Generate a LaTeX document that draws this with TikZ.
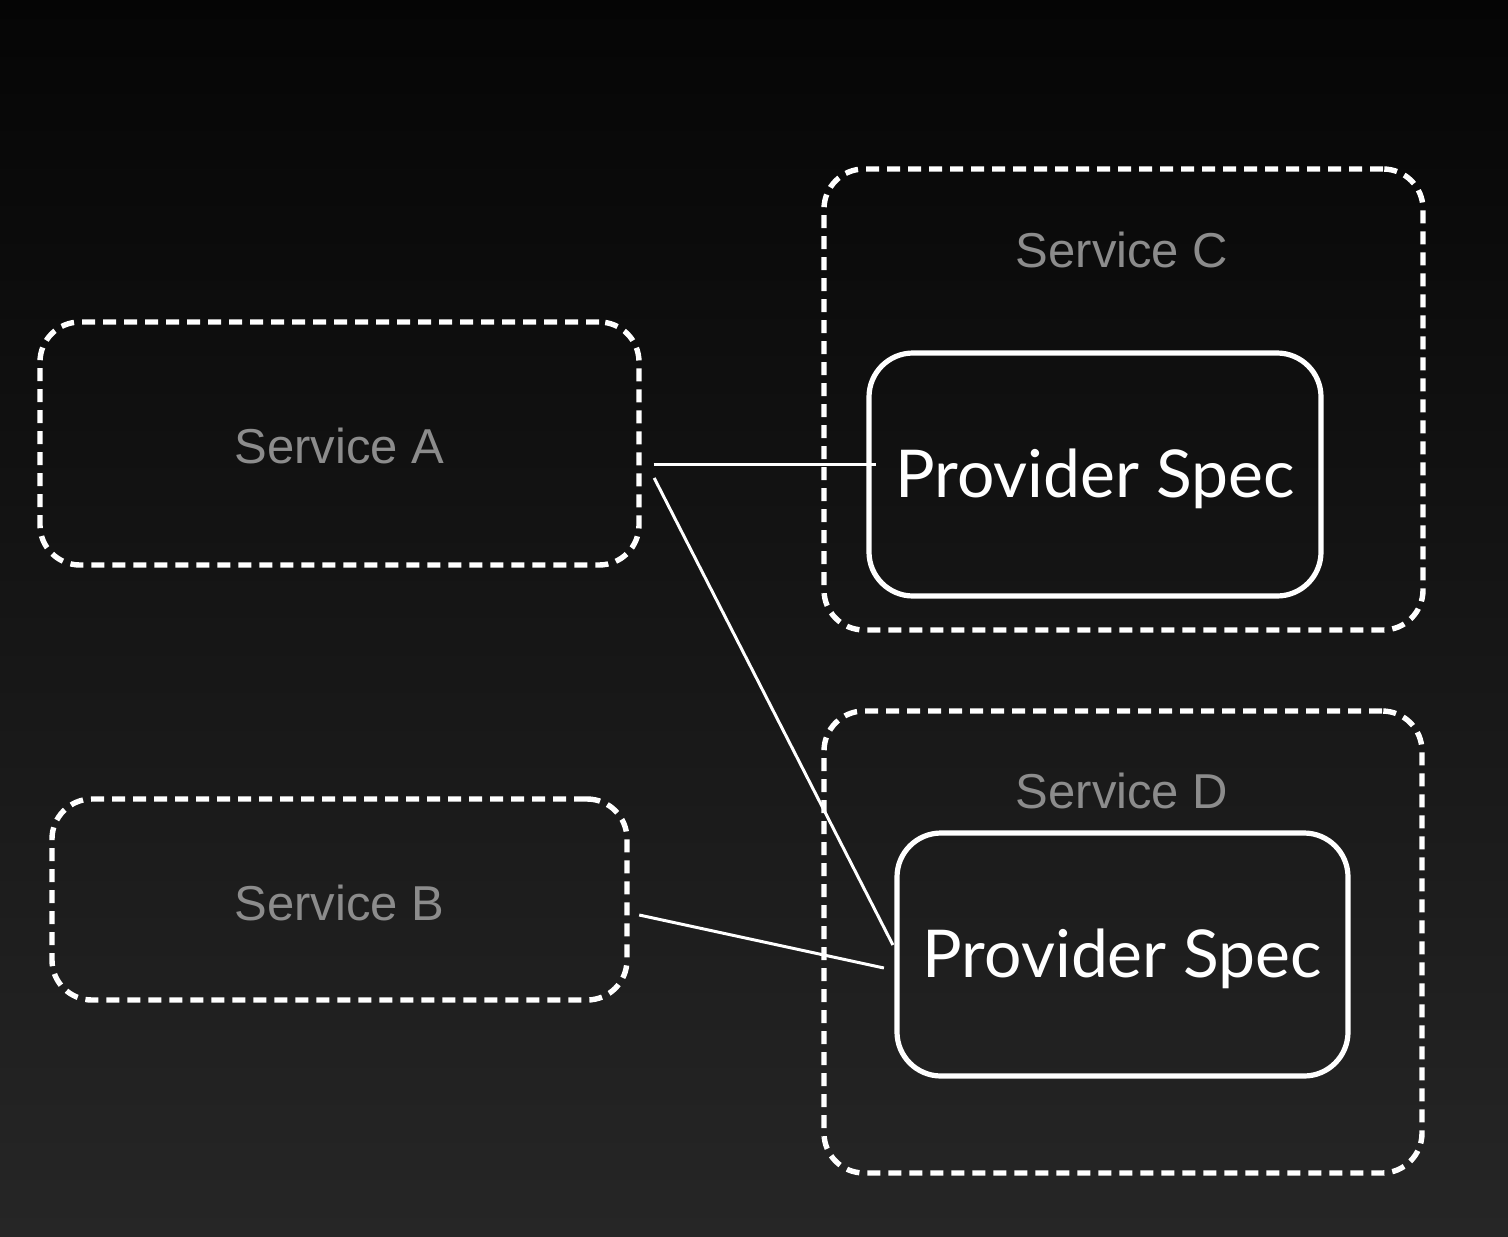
\documentclass[tikz,border=0pt]{standalone}
\usepackage{fontspec}
\setmainfont{Liberation Sans}
\newfontfamily\provfont{Lato}
\usetikzlibrary{calc}
\definecolor{bgtop}{HTML}{050505}
\definecolor{bgbot}{HTML}{262626}
\definecolor{svcgray}{HTML}{8C8C8C}
\newcommand{\provtext}{\raisebox{-2pt}[\height][\depth]{Provider Spec}}
\begin{document}
\begin{tikzpicture}[x=0.5pt,y=-0.5pt,
  svcbox/.style={draw=white, line width=2.7pt, rounded corners=20pt, dash pattern=on 6.5pt off 4pt, inner sep=0pt},
  provbox/.style={draw=white, line width=2.6pt, rounded corners=22pt, inner sep=0pt, text=white, font=\provfont\fontsize{33}{36}\selectfont},
  svclabel/.style={text=svcgray, font=\fontsize{24.5}{28}\selectfont, inner sep=0pt},
  conn/.style={draw=white, line width=1.5pt}]
\shade[top color=bgtop, bottom color=bgbot] (0,0) rectangle (1508,1236);
\useasboundingbox (0,0) rectangle (1508,1236);
% service boxes
\node[svcbox, minimum width=299.5pt, minimum height=121.5pt] (A) at (339.5,443.5) {};
\node[svclabel] (Alabel) at (339.5,446) {Service A};
\node[svcbox, minimum width=287.5pt, minimum height=100.5pt] (B) at (339.5,899.5) {};
\node[svclabel] (Blabel) at (339.5,903) {Service B};
\node[svcbox, minimum width=299.5pt, minimum height=230.5pt] (C) at (1123.5,399.5) {};
\node[svclabel] (Clabel) at (1122,250) {Service C};
\node[svcbox, minimum width=299pt, minimum height=231pt] (D) at (1123,942) {};
\node[svclabel] (Dlabel) at (1122,791) {Service D};
% provider boxes
\node[provbox, minimum width=226pt, minimum height=121.5pt] (PC) at (1095,474.5) {\provtext};
\node[provbox, minimum width=225.5pt, minimum height=121.5pt] (PD) at (1122.5,954.5) {\provtext};
% connectors
\draw[conn] ($(A.east)+(12,20.5)$) -- ($(PC.west)+(9.5,-10.5)$);
\draw[conn] ($(A.east)+(12.5,34.5)$) -- ($(PD.west)+(-1.5,-9.5)$);
\draw[conn] ($(B.east)+(9.5,15.5)$) -- ($(PD.west)+(-10.5,13.5)$);
\end{tikzpicture}
\end{document}
